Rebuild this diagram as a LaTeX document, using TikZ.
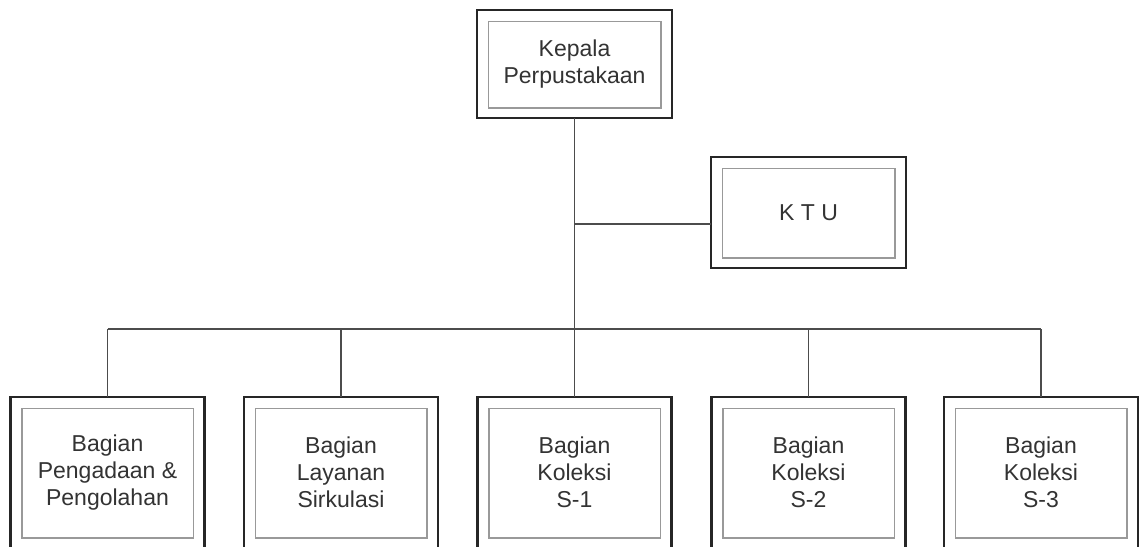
\documentclass[tikz,border=0pt]{standalone}
\usepackage{fontspec}
\setmainfont{Liberation Sans}
\usetikzlibrary{calc}
\tikzset{
  unit/.style={draw=black!85, line width=2.3pt, fill=white, outer sep=0pt,
    inner sep=0pt, align=center, text=black!80,
    font=\fontsize{23}{27}\selectfont},
  frame/.style={draw=black!40, line width=1.5pt},
  link/.style={draw=black!70, line width=1.2pt},
}
\begin{document}
\begin{tikzpicture}[x=1pt, y=-1pt]
  \useasboundingbox (0,0) rectangle (1139,546);
  \clip (0,0) rectangle (1139,546);

  % head and staff office
  \node[unit, minimum width=195, minimum height=108] (kepala) at (574.5,64)
    {Kepala\\Perpustakaan};
  \node[unit, minimum width=195, minimum height=111] (ktu) at (808.5,212.5)
    {K T U};

  % departments
  \node[unit, minimum width=194, minimum height=151] (b1) at (107.5,472.5)
    {Bagian\\Pengadaan \&\\Pengolahan};
  \node[unit, minimum width=194, minimum height=151] (b2) at (341,472.5)
    {Bagian\\Layanan\\Sirkulasi};
  \node[unit, minimum width=194, minimum height=151] (b3) at (574.5,472.5)
    {Bagian\\Koleksi\\S-1};
  \node[unit, minimum width=194, minimum height=151] (b4) at (808.5,472.5)
    {Bagian\\Koleksi\\S-2};
  \node[unit, minimum width=194, minimum height=151] (b5) at (1041,472.5)
    {Bagian\\Koleksi\\S-3};

  % inner frames
  \foreach \n in {kepala,ktu,b1,b2,b3,b4,b5}
    \draw[frame] ([shift={(11.5pt,-11.5pt)}]\n.north west)
      rectangle ([shift={(-11pt,10pt)}]\n.south east);

  % connectors
  \coordinate (bus) at (574.5,329);
  \coordinate (staff) at (574.5,224);
  \draw[link] (kepala.south) -- (b3.north);
  \draw[link] (staff) -- (staff -| ktu.west);
  \draw[link] (b1.north |- bus) -- (b5.north |- bus);
  \foreach \n in {b1,b2,b4,b5}
    \draw[link] (\n.north) -- (\n.north |- bus);
\end{tikzpicture}
\end{document}
